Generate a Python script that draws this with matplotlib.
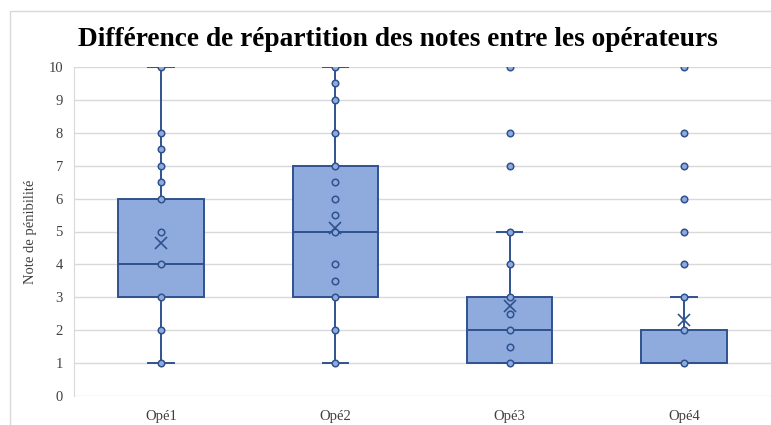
import numpy as np
import matplotlib.pyplot as plt
from matplotlib.patches import Rectangle

# box statistics
labels = ['Opé1', 'Opé2', 'Opé3', 'Opé4']
whislo = [1, 1, 1, 1]
q1 = [3, 3, 1, 1]
med = [4, 5, 2, 1]
q3 = [6, 7, 3, 2]
whishi = [10, 10, 5, 3]
means = [4.65, 5.12, 2.75, 2.3]

# individual points (inner points + outliers)
pts1 = [1, 2, 3, 4, 5, 6, 6.5, 7, 7.5, 8, 10]
pts2 = [1, 2, 3, 3.5, 4, 5, 5.5, 6, 6.5, 7, 8, 9, 9.5, 10]
pts3 = [1, 1.5, 2, 2.5, 3, 4, 5, 7, 8, 10]
pts4 = [1, 2, 3, 4, 5, 6, 7, 8, 10]
points = [pts1, pts2, pts3, pts4]

fill = '#8FAADC'
edge = '#2F528F'
serif = ['Liberation Serif', 'DejaVu Serif']

fig = plt.figure(figsize=(7.71, 4.25), dpi=100)
ax = fig.add_axes([74/771, 1 - 396/425, 1 - 74/771, (396 - 67)/425])

# chart frame
fig.patches.append(Rectangle((10/771, -0.1), 1.2, 1 - 11/425 + 0.1, transform=fig.transFigure,
                             fill=False, edgecolor='#D9D9D9', lw=1))

stats = []
for i in range(4):
    stats.append(dict(label=labels[i], whislo=whislo[i], q1=q1[i], med=med[i], q3=q3[i],
                      whishi=whishi[i], mean=means[i], fliers=[]))

pos = np.arange(1, 5)
ax.bxp(stats, positions=pos, widths=0.49, capwidths=0.145, patch_artist=True, showmeans=True,
       boxprops=dict(facecolor=fill, edgecolor=edge, lw=1.4),
       medianprops=dict(color=edge, lw=1.4),
       whiskerprops=dict(color=edge, lw=1.4),
       capprops=dict(color=edge, lw=1.4),
       meanprops=dict(marker='x', markeredgecolor=edge, markersize=8, markeredgewidth=1.2),
       zorder=3)

for i, p in enumerate(points):
    ax.scatter(np.full(len(p), pos[i]), p, s=22, facecolor=fill, edgecolor=edge, lw=1.1, zorder=4)

ax.set_xlim(0.5, 4.5)
ax.set_ylim(0, 10)
ax.set_yticks(range(0, 11))
ax.yaxis.grid(True, color='#D9D9D9', lw=1)
ax.set_axisbelow(True)
ax.tick_params(length=0, labelsize=10.5, colors='#404040', pad=8)
ax.tick_params(axis='x', pad=10)
for lab in ax.get_xticklabels() + ax.get_yticklabels():
    lab.set_family(serif)
for s in ['top', 'right', 'bottom']:
    ax.spines[s].set_visible(False)
ax.spines['left'].set_color('#D9D9D9')

ax.set_ylabel('Note de pénibilité', family=serif, fontsize=10.5, color='#404040', labelpad=8)
fig.text(0.516, 1 - 40/425, 'Différence de répartition des notes entre les opérateurs',
         ha='center', va='center', family=serif, fontsize=19.7, fontweight='bold')

fig.savefig('out.png', dpi=100)
